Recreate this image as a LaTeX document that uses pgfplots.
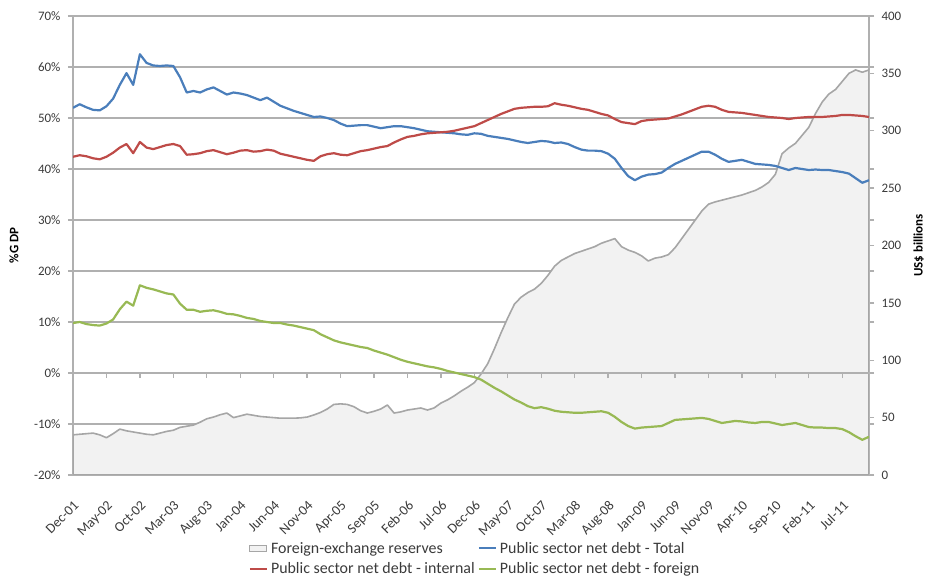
\documentclass[border=0pt]{standalone}
\usepackage{fontspec}
\setmainfont{Carlito}
\usepackage{pgfplots}
\pgfplotsset{compat=1.18}
\usepackage{pgfplotstable}

\definecolor{cTotal}{HTML}{4A7EBB}
\definecolor{cInt}{HTML}{BE4B48}
\definecolor{cFor}{HTML}{98B954}
\definecolor{cResFill}{HTML}{F2F2F2}
\definecolor{cResLine}{HTML}{A6A6A6}
\definecolor{cGrid}{HTML}{B0B0B0}
\definecolor{cText}{HTML}{3A3A3A}

% month index (0 = Dec-01), debt in % of GDP, reserves in US$ billions
\pgfplotstableread{
m   tot   int   for    res
0   52.0  42.4   9.8   35
1   52.7  42.7  10.0   35.5
2   52.1  42.5   9.6   36
3   51.6  42.1   9.4   36.5
4   51.5  41.9   9.3   35
5   52.3  42.4   9.7   32.5
6   53.8  43.2  10.5   36
7   56.5  44.2  12.5   40
8   58.8  44.9  14.0   38.5
9   56.5  43.1  13.2   37.5
10  62.5  45.3  17.2   36.5
11  60.8  44.2  16.7   35.5
12  60.3  43.9  16.4   35
13  60.2  44.3  16.0   36.5
14  60.3  44.7  15.6   38
15  60.2  44.9  15.4   39
16  58.0  44.5  13.6   41.5
17  55.0  42.8  12.4   42.5
18  55.3  42.9  12.4   43.5
19  55.0  43.1  12.0   46
20  55.6  43.5  12.2   49
21  56.0  43.7  12.3   50.5
22  55.3  43.3  12.0   52.5
23  54.6  42.9  11.6   54
24  55.0  43.2  11.5   50
25  54.8  43.6  11.2   51.5
26  54.5  43.7  10.8   53
27  54.0  43.4  10.6   52
28  53.5  43.5  10.2   51
29  54.0  43.8  10.0   50.5
30  53.2  43.6   9.8   50
31  52.4  43.0   9.8   49.5
32  51.9  42.7   9.5   49.5
33  51.4  42.4   9.3   49.5
34  51.0  42.1   9.0   49.8
35  50.6  41.8   8.7   50.5
36  50.2  41.6   8.4   52.3
37  50.3  42.5   7.6   54.5
38  50.0  42.9   7.0   57.5
39  49.6  43.1   6.4   61.5
40  48.9  42.8   6.0   62
41  48.4  42.7   5.7   61.5
42  48.5  43.1   5.4   59.5
43  48.6  43.5   5.1   56
44  48.6  43.7   4.9   54
45  48.3  44.0   4.4   55.5
46  48.0  44.3   4.0   57.5
47  48.2  44.5   3.6   61
48  48.4  45.2   3.1   54
49  48.4  45.8   2.6   55
50  48.2  46.3   2.2   56.6
51  48.0  46.5   1.9   57.5
52  47.7  46.8   1.6   58.4
53  47.4  47.0   1.3   56.6
54  47.3  47.1   1.1   58.5
55  47.2  47.2   0.8   62.7
56  47.1  47.3   0.4   65.5
57  47.0  47.5   0.1   69
58  46.8  47.8  -0.2   73
59  46.7  48.1  -0.5   76.5
60  47.0  48.4  -0.8   80.5
61  46.9  49.0  -1.3   88
62  46.5  49.6  -2.1   97
63  46.3  50.2  -2.9   110
64  46.1  50.8  -3.6   124
65  45.9  51.3  -4.4   137
66  45.6  51.8  -5.2   149
67  45.3  52.0  -5.8   155
68  45.1  52.1  -6.5   159
69  45.3  52.2  -6.9   162
70  45.5  52.2  -6.7   167
71  45.4  52.3  -7.0   174
72  45.1  52.9  -7.4   182
73  45.2  52.6  -7.6   187
74  44.9  52.4  -7.7   190
75  44.3  52.1  -7.8   193
76  43.8  51.8  -7.8   195
77  43.6  51.6  -7.7   197
78  43.6  51.2  -7.6   199
79  43.5  50.8  -7.5   202
80  43.0  50.5  -7.8   204
81  42.0  49.8  -8.6   206
82  40.2  49.2  -9.6   199
83  38.6  49.0 -10.4   196
84  37.8  48.8 -10.9   194
85  38.5  49.4 -10.7   191
86  38.9  49.6 -10.6   186.5
87  39.0  49.7 -10.5   189
88  39.3  49.8 -10.4   190
89  40.2  49.9  -9.8   192
90  41.0  50.3  -9.2   198
91  41.6  50.7  -9.1   206
92  42.2  51.2  -9.0   214
93  42.8  51.7  -8.9   222
94  43.4  52.2  -8.8   230
95  43.4  52.4  -9.0   236
96  42.8  52.2  -9.4   238
97  42.0  51.6  -9.8   239.5
98  41.4  51.2  -9.6   241
99  41.6  51.1  -9.4   242.5
100 41.8  51.0  -9.5   244
101 41.4  50.8  -9.7   246
102 41.0  50.6  -9.8   248
103 40.9  50.4  -9.6   251
104 40.8  50.2  -9.6   255
105 40.6  50.1  -9.9   262
106 40.2  50.0 -10.2   280
107 39.8  49.8 -10.0   285
108 40.2  50.0  -9.8   289
109 40.0  50.1 -10.2   296
110 39.8  50.2 -10.6   303
111 39.9  50.2 -10.7   315
112 39.8  50.2 -10.7   325
113 39.8  50.3 -10.8   332
114 39.6  50.4 -10.8   336
115 39.4  50.6 -11.0   343
116 39.1  50.6 -11.6   350
117 38.2  50.5 -12.4   353
118 37.3  50.4 -13.1   351
119 37.8  50.2 -12.5   353
}\debtdata

\pgfplotsset{
  base/.style={
    scale only axis, width=796bp, height=459bp,
    at={(0,0)}, anchor=south west,
    xmin=0, xmax=119,
    /pgf/number format/assume math mode=true,
    tick label style={font=\fontsize{13}{15}\selectfont, text=cText},
    label style={font=\bfseries\fontsize{13}{15}\selectfont, text=black},
    major tick length=5bp,
    tick align=outside,
  },
}

\begin{document}
\begin{tikzpicture}
\path[use as bounding box] (-73bp,-111bp) rectangle (853bp,475bp);

% left scale: frame, grid, percent ticks and month labels
\begin{axis}[base,
  ymin=-20, ymax=70,
  ytick={-20,-10,...,70},
  yticklabel={\pgfmathprintnumber{\tick}\%},
  ymajorgrids,
  grid style={cGrid, line width=1.3bp},
  axis line style={cGrid, line width=1.3bp},
  ytick style={cGrid, line width=1.3bp},
  xtick={0,5,...,115},
  xticklabels={Dec-01,May-02,Oct-02,Mar-03,Aug-03,Jan-04,Jun-04,Nov-04,
    Apr-05,Sep-05,Feb-06,Jul-06,Dec-06,May-07,Oct-07,Mar-08,Aug-08,Jan-09,
    Jun-09,Nov-09,Apr-10,Sep-10,Feb-11,Jul-11},
  xtick style={draw=none},
  x tick label style={xshift=0bp, yshift=-15bp, rotate=45, anchor=north east,
    font=\fontsize{14}{16}\selectfont},
  y tick label style={xshift=-4bp},
  ylabel={\%G DP},
  ylabel style={at={(axis description cs:-0.0741,0.5)}, anchor=center},
]
\addplot[draw=none] coordinates {(0,0)};
\end{axis}

% right scale: foreign-exchange reserves as a filled area
\begin{axis}[base,
  ymin=0, ymax=400,
  axis y line*=right, axis x line=none,
  ytick={0,50,...,400},
  y axis line style={cGrid, line width=1.3bp},
  ytick style={cGrid, line width=1.3bp},
  y tick label style={xshift=4bp},
  ylabel={US\$ billions},
  ylabel style={at={(axis description cs:1.0625,0.5)}, anchor=center},
]
\addplot[fill=cResFill, draw=cResLine, line width=1.6bp, line join=round]
  table[x=m, y=res]{\debtdata} \closedcycle;
\end{axis}

% left scale again: the debt lines, the zero axis and the legend
\begin{axis}[base,
  ymin=-20, ymax=70,
  axis x line=middle, axis y line=none,
  x axis line style={cGrid, line width=1.3bp, -},
  xtick={5,10,...,115}, xticklabels={},
  xtick style={cGrid, line width=1.3bp, yshift=-2.5bp},
  tick align=center,
  legend columns=2,
  legend cell align=left,
  legend style={at={(0.505,-0.137)}, anchor=north, draw=none, fill=none,
    font=\fontsize{16}{18}\selectfont, text=cText,
    row sep=4bp,
    /tikz/every even column/.append style={column sep=1bp},
    /tikz/every odd column/.append style={column sep=1bp}},
]
\addlegendimage{area legend, fill=cResFill, draw=cResLine, line width=1bp}
\addlegendentry{Foreign-exchange reserves}
\addplot[cTotal, line width=2.2bp, line join=round] table[x=m, y=tot]{\debtdata};
\addlegendentry{Public sector net debt - Total}
\addplot[cInt, line width=2.2bp, line join=round] table[x=m, y=int]{\debtdata};
\addlegendentry{Public sector net debt - internal}
\addplot[cFor, line width=2.2bp, line join=round] table[x=m, y=for]{\debtdata};
\addlegendentry{Public sector net debt - foreign}
\end{axis}
\end{tikzpicture}
\end{document}
